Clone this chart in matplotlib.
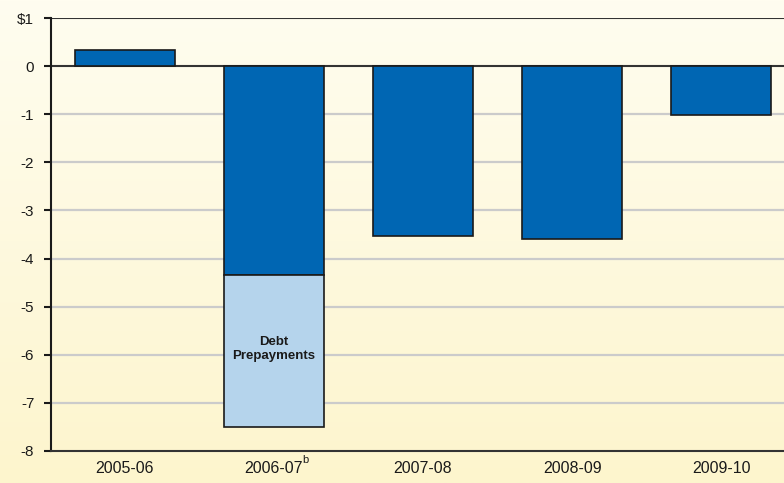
import numpy as np
import matplotlib
matplotlib.use("Agg")
import matplotlib.pyplot as plt
from matplotlib import font_manager

plt.rcParams['font.family'] = ['Liberation Sans', 'DejaVu Sans']

# data
years = ['2005-06', '2006-07', '2007-08', '2008-09', '2009-10']
base = [0.33, -4.35, -3.53, -3.6, -1.02]
prepay = [0, -3.15, 0, 0, 0]
yticks = [1, 0, -1, -2, -3, -4, -5, -6, -7, -8]
ytick_labels = ['$1', '0', '-1', '-2', '-3', '-4', '-5', '-6', '-7', '-8']

dark_blue = '#0066b3'
light_blue = '#b5d4ec'

names = {f.name for f in font_manager.fontManager.ttflist}
narrow = 'Liberation Sans Narrow' if 'Liberation Sans Narrow' in names else 'Liberation Sans'

fig = plt.figure(figsize=(7.84, 4.83), dpi=100)

# background gradient
bg = fig.add_axes([0, 0, 1, 1], zorder=-10)
grad = np.linspace(0, 1, 256).reshape(-1, 1)
top_c = np.array([255, 253, 240]) / 255
bot_c = np.array([253, 245, 205]) / 255
img = top_c + (bot_c - top_c) * grad[:, :, None]
bg.imshow(img, aspect='auto', extent=[0, 1, 0, 1])
bg.axis('off')

ax = fig.add_axes([0.065, 0.0663, 0.935, 0.8964])
ax.patch.set_alpha(0)
x = np.arange(len(years))
w = 0.67
ax.bar(x, base, width=w, color=dark_blue, edgecolor='#1a1a1a', linewidth=1.2, zorder=3)
ax.bar(x[1:2], prepay[1:2], width=w, bottom=base[1:2], color=light_blue,
       edgecolor='#1a1a1a', linewidth=1.2, zorder=3)
ax.text(x[1], base[1] + prepay[1] / 2 + 0.05, 'Debt\nPrepayments', ha='center', va='center',
        fontsize=10.5 if narrow != 'Liberation Sans' else 9.5, fontweight='bold',
        family=[narrow, 'DejaVu Sans'], linespacing=1.25, zorder=4, color='#1a1a1a')

ax.set_ylim(-8, 1)
ax.set_xlim(-0.493, 4.42)
ax.set_yticks(yticks)
ax.set_yticklabels(ytick_labels)
ax.set_xticks(x)
ax.set_xticklabels(years)
# superscript note on 2006-07
ax.annotate('b', xy=(x[1], 0), xycoords=ax.get_xaxis_transform(),
            xytext=(20.5, -3), textcoords='offset points', fontsize=8,
            ha='left', va='top', color='#1a1a1a')
for yv in range(-7, 0):
    ax.axhline(yv, color='#cbcbcb', linewidth=1.6, zorder=1)
ax.axhline(0, color='#333333', linewidth=1.5, zorder=2)
ax.axhline(1, color='#333333', linewidth=1.5, zorder=2)

for s in ['top', 'right']:
    ax.spines[s].set_visible(False)
ax.spines['left'].set_color('#1a1a1a')
ax.spines['left'].set_linewidth(1.5)
ax.spines['bottom'].set_color('#333333')
ax.spines['bottom'].set_linewidth(1.5)
ax.tick_params(axis='y', length=5, width=1.5, color='#1a1a1a', labelsize=11, pad=7,
               labelcolor='#1a1a1a')
ax.tick_params(axis='x', length=0, labelsize=11.5, pad=7, labelcolor='#1a1a1a')

fig.savefig('out.png', dpi=100)
